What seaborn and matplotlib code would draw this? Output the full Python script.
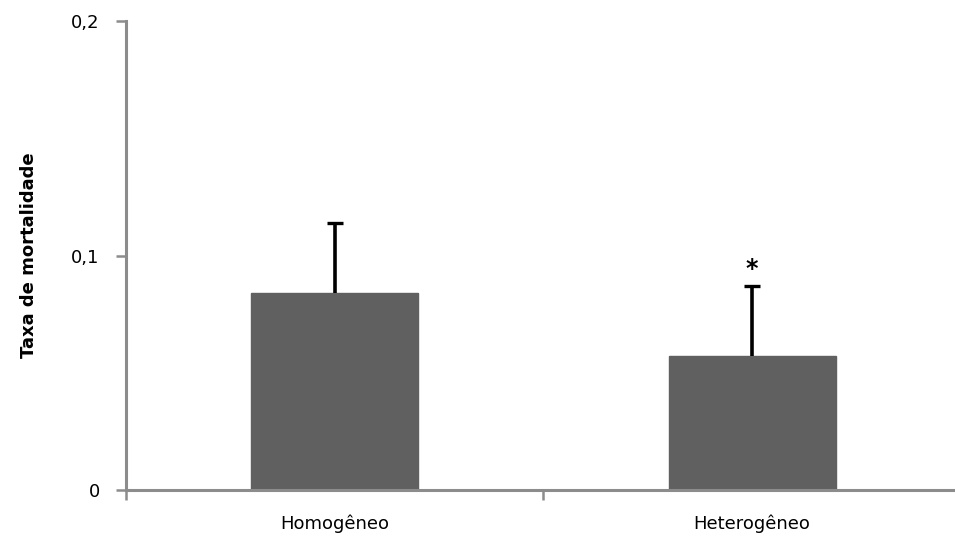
import matplotlib
matplotlib.use("Agg")
import matplotlib.pyplot as plt
import seaborn as sns
import pandas as pd

categories = ["Homogêneo", "Heterogêneo"]
mortality = [0.084, 0.057]
error_upper = [0.030, 0.030]
significance = ["", "*"]
yticks = [0, 0.1, 0.2]
ytick_labels = ["0", "0,1", "0,2"]

sns.set_theme(style="white")
plt.rcParams["font.family"] = ["DejaVu Sans"]
plt.rcParams["text.color"] = "black"
plt.rcParams["axes.labelcolor"] = "black"
plt.rcParams["xtick.color"] = "black"
plt.rcParams["ytick.color"] = "black"

df = pd.DataFrame({"grupo": categories, "taxa": mortality})

fig = plt.figure(figsize=(9.55, 5.4), dpi=100)
ax = fig.add_axes([0.132, 0.0926, 0.874, 0.868])

sns.barplot(data=df, x="grupo", y="taxa", color="#606060", width=0.4,
            saturation=1, errorbar=None, ax=ax, edgecolor="#606060")

# upper-only error bars: hide the caps at the bar tops
xs = list(range(len(categories)))
_, caps, _ = ax.errorbar(xs, mortality,
                         yerr=[[0] * len(mortality), error_upper],
                         fmt="none", ecolor="black", elinewidth=2.6,
                         capsize=5.5, capthick=2.4)
caps[0].set_visible(False)

for x, v, e, s in zip(xs, mortality, error_upper, significance):
    if s:
        ax.text(x, v + e + 0.002, s, ha="center", va="bottom",
                fontsize=17, fontweight="bold", color="black")

ax.set_xlim(-0.5, 1.5)
ax.set_ylim(0, 0.2)
ax.set_yticks(yticks)
ax.set_yticklabels(ytick_labels)
ax.set_xticks([-0.5, 0.5, 1.5], minor=False)
ax.set_xticklabels(["", "", ""])
ax.set_xticks(xs, minor=True)
ax.set_xticklabels(categories, minor=True)
ax.tick_params(axis="x", which="minor", length=0, pad=18, labelsize=13,
               labelcolor="black")
ax.tick_params(axis="x", which="major", length=7, width=1.8, color="#8c8c8c",
               direction="out", bottom=True)
ax.tick_params(axis="y", length=7, width=1.8, color="#8c8c8c",
               direction="out", left=True, labelsize=13, pad=12,
               labelcolor="black")

ax.set_xlabel("")
ax.set_ylabel("Taxa de mortalidade", fontsize=13, fontweight="bold",
              labelpad=24, color="black")

for side in ["top", "right"]:
    ax.spines[side].set_visible(False)
for side in ["left", "bottom"]:
    ax.spines[side].set_color("#8c8c8c")
    ax.spines[side].set_linewidth(2.2)

fig.savefig("out.png", dpi=100)
